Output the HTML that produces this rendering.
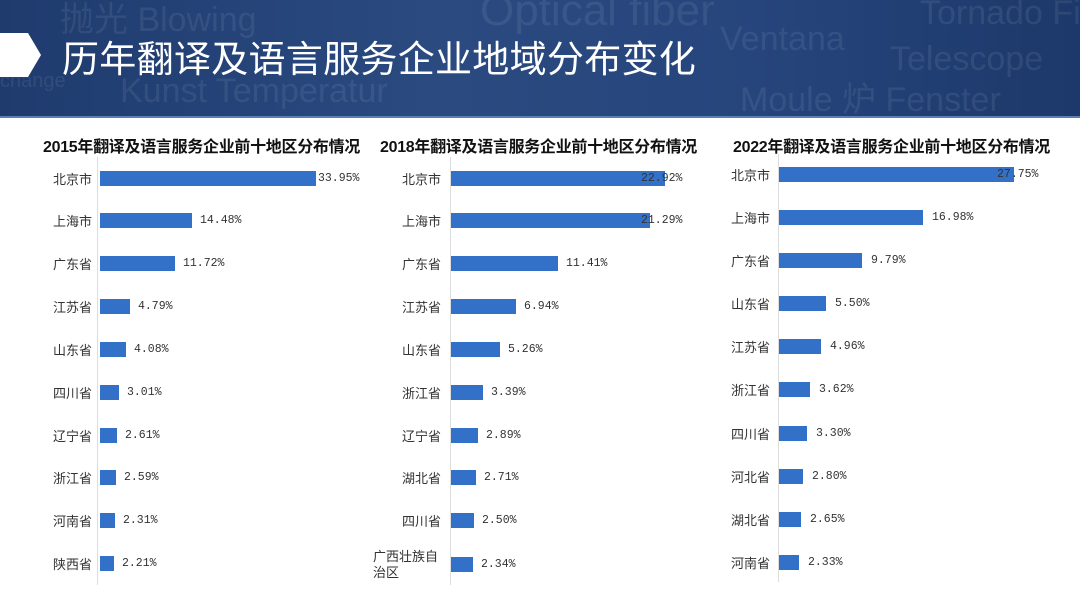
<!DOCTYPE html>
<html><head><meta charset="utf-8"><style>
body{margin:0;width:1080px;height:607px;position:relative;background:#fff;overflow:hidden;font-family:"Liberation Sans","Noto Sans CJK SC",sans-serif}
.hd{position:absolute;left:0;top:0;width:1080px;height:116px;background:linear-gradient(90deg,#1f3b6e,#2a4a80 40%,#26457c 70%,#1d386a);border-bottom:2px solid #5a7fb5}
.bg{position:absolute;color:rgba(255,255,255,0.08);font-size:34px;white-space:nowrap}
.ttl{position:absolute;left:62px;top:32px;color:#fff;font-size:37px;font-family:"Noto Sans CJK SC",sans-serif;letter-spacing:0.3px;line-height:48px}
.ct{position:absolute;top:133px;font-size:16px;font-weight:bold;color:#111;white-space:nowrap;font-family:"Liberation Sans","Noto Sans CJK SC",sans-serif;letter-spacing:-0.3px}
.ax{position:absolute;width:1px;background:#ddd}
.l{position:absolute;font-size:13px;color:#333;text-align:right;width:80px;line-height:16px;font-family:"Noto Sans CJK SC",sans-serif}
.b{position:absolute;height:15px;background:#3370c8}
.v{position:absolute;font-size:11.5px;color:#333;font-family:"Liberation Mono",monospace;line-height:15px}
</style></head><body>
<div class="hd">
<div class="bg" style="left:60px;top:-8px">抛光 Blowing</div>
<div class="bg" style="left:480px;top:-14px;font-size:44px">Optical fiber</div>
<div class="bg" style="left:720px;top:20px">Ventana</div>
<div class="bg" style="left:890px;top:40px">Telescope</div>
<div class="bg" style="left:920px;top:-6px">Tornado Fil</div>
<div class="bg" style="left:120px;top:72px">Kunst Temperatur</div>
<div class="bg" style="left:740px;top:72px">Moule 炉 Fenster</div>
<div class="bg" style="left:0px;top:70px;font-size:20px">change</div>
</div>
<div style="position:absolute;left:28px;top:33px;width:0;height:0;border-top:22px solid transparent;border-bottom:22px solid transparent;border-left:13px solid #fff"></div>
<div style="position:absolute;left:0;top:33px;width:28px;height:44px;background:#fff"></div>
<div class="ttl">历年翻译及语言服务企业地域分布变化</div>

<div class="ct" style="left:43px">2015年翻译及语言服务企业前十地区分布情况</div>
<div class="ct" style="left:380px">2018年翻译及语言服务企业前十地区分布情况</div>
<div class="ct" style="left:733px">2022年翻译及语言服务企业前十地区分布情况</div>

<div class="ax" style="left:97px;top:157px;height:428px"></div>
<div class="ax" style="left:450px;top:157px;height:428px"></div>
<div class="ax" style="left:778px;top:154px;height:428px"></div>

<!-- chart1 -->
<div class="l" style="left:12px;top:171px">北京市</div><div class="b" style="left:100px;top:171px;width:216px"></div><div class="v" style="left:318px;top:171px">33.95%</div>
<div class="l" style="left:12px;top:213px">上海市</div><div class="b" style="left:100px;top:213px;width:92px"></div><div class="v" style="left:200px;top:213px">14.48%</div>
<div class="l" style="left:12px;top:256px">广东省</div><div class="b" style="left:100px;top:256px;width:75px"></div><div class="v" style="left:183px;top:256px">11.72%</div>
<div class="l" style="left:12px;top:299px">江苏省</div><div class="b" style="left:100px;top:299px;width:30px"></div><div class="v" style="left:138px;top:299px">4.79%</div>
<div class="l" style="left:12px;top:342px">山东省</div><div class="b" style="left:100px;top:342px;width:26px"></div><div class="v" style="left:134px;top:342px">4.08%</div>
<div class="l" style="left:12px;top:385px">四川省</div><div class="b" style="left:100px;top:385px;width:19px"></div><div class="v" style="left:127px;top:385px">3.01%</div>
<div class="l" style="left:12px;top:428px">辽宁省</div><div class="b" style="left:100px;top:428px;width:17px"></div><div class="v" style="left:125px;top:428px">2.61%</div>
<div class="l" style="left:12px;top:470px">浙江省</div><div class="b" style="left:100px;top:470px;width:16px"></div><div class="v" style="left:124px;top:470px">2.59%</div>
<div class="l" style="left:12px;top:513px">河南省</div><div class="b" style="left:100px;top:513px;width:15px"></div><div class="v" style="left:123px;top:513px">2.31%</div>
<div class="l" style="left:12px;top:556px">陕西省</div><div class="b" style="left:100px;top:556px;width:14px"></div><div class="v" style="left:122px;top:556px">2.21%</div>

<!-- chart2 -->
<div class="l" style="left:361px;top:171px">北京市</div><div class="b" style="left:451px;top:171px;width:214px"></div><div class="v" style="left:641px;top:171px">22.92%</div>
<div class="l" style="left:361px;top:213px">上海市</div><div class="b" style="left:451px;top:213px;width:199px"></div><div class="v" style="left:641px;top:213px">21.29%</div>
<div class="l" style="left:361px;top:256px">广东省</div><div class="b" style="left:451px;top:256px;width:107px"></div><div class="v" style="left:566px;top:256px">11.41%</div>
<div class="l" style="left:361px;top:299px">江苏省</div><div class="b" style="left:451px;top:299px;width:65px"></div><div class="v" style="left:524px;top:299px">6.94%</div>
<div class="l" style="left:361px;top:342px">山东省</div><div class="b" style="left:451px;top:342px;width:49px"></div><div class="v" style="left:508px;top:342px">5.26%</div>
<div class="l" style="left:361px;top:385px">浙江省</div><div class="b" style="left:451px;top:385px;width:32px"></div><div class="v" style="left:491px;top:385px">3.39%</div>
<div class="l" style="left:361px;top:428px">辽宁省</div><div class="b" style="left:451px;top:428px;width:27px"></div><div class="v" style="left:486px;top:428px">2.89%</div>
<div class="l" style="left:361px;top:470px">湖北省</div><div class="b" style="left:451px;top:470px;width:25px"></div><div class="v" style="left:484px;top:470px">2.71%</div>
<div class="l" style="left:361px;top:513px">四川省</div><div class="b" style="left:451px;top:513px;width:23px"></div><div class="v" style="left:482px;top:513px">2.50%</div>
<div class="l" style="top:548px;text-align:left;width:72px;left:373px">广西壮族自治区</div><div class="b" style="left:451px;top:557px;width:22px"></div><div class="v" style="left:481px;top:557px">2.34%</div>

<!-- chart3 -->
<div class="l" style="left:690px;top:167px">北京市</div><div class="b" style="left:779px;top:167px;width:235px"></div><div class="v" style="left:997px;top:167px">27.75%</div>
<div class="l" style="left:690px;top:210px">上海市</div><div class="b" style="left:779px;top:210px;width:144px"></div><div class="v" style="left:932px;top:210px">16.98%</div>
<div class="l" style="left:690px;top:253px">广东省</div><div class="b" style="left:779px;top:253px;width:83px"></div><div class="v" style="left:871px;top:253px">9.79%</div>
<div class="l" style="left:690px;top:296px">山东省</div><div class="b" style="left:779px;top:296px;width:47px"></div><div class="v" style="left:835px;top:296px">5.50%</div>
<div class="l" style="left:690px;top:339px">江苏省</div><div class="b" style="left:779px;top:339px;width:42px"></div><div class="v" style="left:830px;top:339px">4.96%</div>
<div class="l" style="left:690px;top:382px">浙江省</div><div class="b" style="left:779px;top:382px;width:31px"></div><div class="v" style="left:819px;top:382px">3.62%</div>
<div class="l" style="left:690px;top:426px">四川省</div><div class="b" style="left:779px;top:426px;width:28px"></div><div class="v" style="left:816px;top:426px">3.30%</div>
<div class="l" style="left:690px;top:469px">河北省</div><div class="b" style="left:779px;top:469px;width:24px"></div><div class="v" style="left:812px;top:469px">2.80%</div>
<div class="l" style="left:690px;top:512px">湖北省</div><div class="b" style="left:779px;top:512px;width:22px"></div><div class="v" style="left:810px;top:512px">2.65%</div>
<div class="l" style="left:690px;top:555px">河南省</div><div class="b" style="left:779px;top:555px;width:20px"></div><div class="v" style="left:808px;top:555px">2.33%</div>
</body></html>
